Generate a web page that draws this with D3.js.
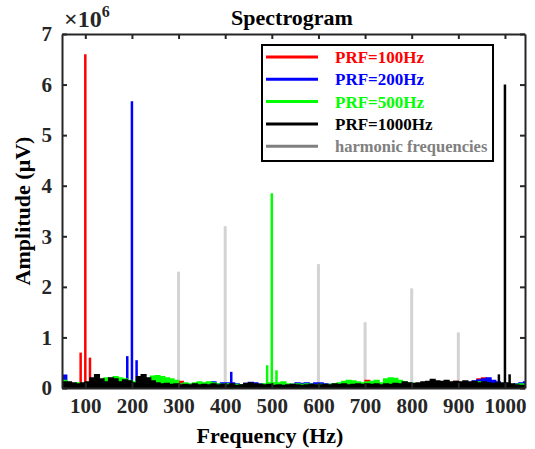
<!doctype html>
<html>
<head>
<meta charset="utf-8">
<style>
  body { margin: 0; background: #fff; }
  #chart text { font-family: "Liberation Serif", "Times New Roman", serif; font-weight: bold; }
  #chart .axis path { stroke: #262626; stroke-width: 2; }
  #chart .axis line { stroke: #262626; stroke-width: 2; }
</style>
</head>
<body>
<svg id="chart"></svg>
<script src="https://cdn.jsdelivr.net/npm/d3@7/dist/d3.min.js"></script>
<script>
// noise floor sampled every 10 Hz from 50 Hz, amplitudes in units of 1e6 uV
var noiseStart = 50, noiseStep = 10;
var redNoise = [0.08,0.06,0.05,0.06,0.07,0.06,0.07,0.06,0.05,0.06,0.05,0.06,0.05,0.06,0.05,0.06,0.05,0.06,0.05,0.06,0.05,0.06,0.05,0.06,0.05,0.13,0.06,0.05,0.06,0.05,0.06,0.05,0.06,0.05,0.06,0.05,0.06,0.05,0.06,0.05,0.06,0.05,0.06,0.05,0.06,0.05,0.06,0.05,0.06,0.05,0.06,0.05,0.06,0.05,0.06,0.05,0.06,0.05,0.06,0.05,0.06,0.05,0.06,0.05,0.06,0.15,0.06,0.05,0.06,0.05,0.06,0.05,0.06,0.05,0.06,0.05,0.06,0.05,0.06,0.05,0.06,0.05,0.06,0.05,0.13,0.06,0.07,0.08,0.1,0.18,0.2,0.15,0.1,0.08,0.07,0.06,0.05,0.06,0.05,0.06,0.05];
var blueNoise = [0.25,0.1,0.08,0.07,0.08,0.07,0.06,0.07,0.08,0.07,0.06,0.07,0.06,0.07,0.06,0.07,0.06,0.07,0.06,0.07,0.06,0.07,0.06,0.07,0.06,0.07,0.06,0.07,0.06,0.07,0.06,0.08,0.12,0.08,0.1,0.1,0.1,0.08,0.06,0.09,0.11,0.1,0.08,0.07,0.06,0.07,0.06,0.07,0.06,0.07,0.1,0.09,0.1,0.08,0.1,0.1,0.08,0.07,0.06,0.07,0.06,0.07,0.06,0.07,0.06,0.07,0.06,0.07,0.06,0.07,0.06,0.07,0.06,0.07,0.06,0.07,0.06,0.07,0.06,0.07,0.06,0.07,0.06,0.07,0.06,0.07,0.08,0.1,0.14,0.16,0.18,0.2,0.15,0.12,0.08,0.07,0.06,0.08,0.1,0.12,0.06];
var greenNoise = [0.15,0.1,0.08,0.1,0.08,0.1,0.12,0.1,0.12,0.2,0.18,0.22,0.2,0.18,0.15,0.12,0.15,0.14,0.16,0.23,0.24,0.22,0.2,0.18,0.15,0.08,0.1,0.08,0.1,0.12,0.1,0.12,0.1,0.08,0.07,0.08,0.06,0.07,0.06,0.08,0.07,0.06,0.07,0.08,0.1,0.1,0.1,0.12,0.08,0.07,0.08,0.07,0.08,0.07,0.06,0.07,0.06,0.07,0.08,0.1,0.13,0.15,0.14,0.12,0.1,0.12,0.13,0.15,0.1,0.18,0.2,0.19,0.15,0.12,0.1,0.09,0.08,0.09,0.1,0.08,0.09,0.1,0.09,0.1,0.12,0.1,0.1,0.09,0.1,0.12,0.1,0.08,0.07,0.06,0.05,0.05,0.06,0.07,0.08,0.07,0.08];
var blackNoise = [0.12,0.12,0.1,0.08,0.1,0.12,0.2,0.26,0.18,0.12,0.2,0.18,0.12,0.16,0.14,0.1,0.22,0.26,0.2,0.14,0.1,0.08,0.09,0.07,0.08,0.06,0.07,0.06,0.08,0.06,0.07,0.06,0.08,0.06,0.07,0.06,0.08,0.05,0.06,0.09,0.1,0.08,0.07,0.06,0.07,0.05,0.06,0.05,0.06,0.07,0.06,0.05,0.06,0.07,0.06,0.06,0.07,0.06,0.08,0.07,0.08,0.06,0.07,0.08,0.07,0.08,0.07,0.08,0.06,0.08,0.07,0.09,0.08,0.12,0.1,0.09,0.1,0.12,0.13,0.17,0.14,0.13,0.15,0.12,0.13,0.12,0.14,0.12,0.13,0.1,0.12,0.1,0.09,0.1,0.1,0.1,0.08,0.06,0.05,0.05,0.05];

// spectral peaks (Hz, 1e6 uV)
var redPeakFreq = [90, 100, 110], redPeakAmp = [0.7, 6.6, 0.6];
var bluePeakFreq = [190, 200, 210, 413], bluePeakAmp = [0.63, 5.67, 0.55, 0.32];
var greenPeakFreq = [490, 500, 510], greenPeakAmp = [0.45, 3.85, 0.35];
var blackPeakFreq = [987, 1000, 1010], blackPeakAmp = [0.27, 6.0, 0.27];
var harmonicFreq = [300, 400, 600, 700, 800, 900], harmonicAmp = [2.3, 3.2, 2.45, 1.3, 1.97, 1.1];

var xTicks = [100, 200, 300, 400, 500, 600, 700, 800, 900, 1000];
var yTicks = [0, 1, 2, 3, 4, 5, 6, 7];
var legendLabels = ["PRF=100Hz", "PRF=200Hz", "PRF=500Hz", "PRF=1000Hz", "harmonic frequencies"];
var legendColors = ["#ff0000", "#0000ff", "#00ff00", "#000000", "#808080"];

var width = 535, height = 449;
var chart = d3.select("#chart").attr("width", width).attr("height", height);

var x = d3.scaleLinear().domain([50, 1043]).range([62, 525]);
var y = d3.scaleLinear().domain([0, 7]).range([388, 34]);

var plot = chart.append("g");
plot.append("clipPath").attr("id", "clip").append("rect")
  .attr("x", 62).attr("y", 34).attr("width", 463).attr("height", 354);
var inner = plot.append("g").attr("clip-path", "url(#clip)");

// harmonic markers go in first, behind everything
harmonicFreq.forEach(function(f, i) {
  inner.append("line")
    .attr("x1", x(f)).attr("x2", x(f))
    .attr("y1", y(0)).attr("y2", y(harmonicAmp[i]))
    .attr("stroke", "#d3d3d3").attr("stroke-width", 3);
});

var series = [
  {noise: redNoise, pf: redPeakFreq, pa: redPeakAmp, color: "#ff0000"},
  {noise: blueNoise, pf: bluePeakFreq, pa: bluePeakAmp, color: "#0000ff"},
  {noise: greenNoise, pf: greenPeakFreq, pa: greenPeakAmp, color: "#00ff00"},
  {noise: blackNoise, pf: blackPeakFreq, pa: blackPeakAmp, color: "#000000"}
];

var area = d3.area()
  .x(function(d, i) { return x(noiseStart + i * noiseStep); })
  .y0(y(0))
  .y1(function(d) { return y(d); })
  .curve(d3.curveStepAfter);

series.forEach(function(s) {
  inner.append("path")
    .datum(s.noise)
    .attr("d", area)
    .attr("fill", s.color)
    .attr("stroke", s.color)
    .attr("stroke-width", 1.5);
  s.pf.forEach(function(f, i) {
    inner.append("line")
      .attr("x1", x(f)).attr("x2", x(f))
      .attr("y1", y(0)).attr("y2", y(s.pa[i]))
      .attr("stroke", s.color).attr("stroke-width", 2.5);
  });
});

// axes box, ticks inward
function tickStyle(g) {
  g.selectAll("text")
    .style("font-size", "21px")
    .style("font-family", "'Liberation Serif', serif")
    .style("font-weight", "bold")
    .attr("fill", "#262626");
}
chart.append("g").attr("class", "axis")
  .attr("transform", "translate(0," + y(0) + ")")
  .call(d3.axisBottom(x).tickValues(xTicks).tickFormat(d3.format("d")).tickSizeInner(-5).tickSizeOuter(0).tickPadding(10))
  .call(tickStyle);
chart.append("g").attr("class", "axis")
  .attr("transform", "translate(0," + y(7) + ")")
  .call(d3.axisTop(x).tickValues(xTicks).tickSizeInner(-5).tickSizeOuter(0).tickFormat(""));
chart.append("g").attr("class", "axis")
  .attr("transform", "translate(" + x.range()[0] + ",0)")
  .call(d3.axisLeft(y).tickValues(yTicks).tickFormat(d3.format("d")).tickSizeInner(-5).tickSizeOuter(0).tickPadding(10))
  .call(tickStyle);
chart.append("g").attr("class", "axis")
  .attr("transform", "translate(" + x.range()[1] + ",0)")
  .call(d3.axisRight(y).tickValues(yTicks).tickSizeInner(-5).tickSizeOuter(0).tickFormat(""));

// titles
chart.append("text").attr("x", 292).attr("y", 25).attr("text-anchor", "middle")
  .style("font-size", "22px").attr("fill", "#000").text("Spectrogram");
var mult = chart.append("text").attr("x", 64).attr("y", 27).style("font-size", "24px").attr("fill", "#262626");
mult.append("tspan").text("\u00d710");
mult.append("tspan").attr("dy", -10).style("font-size", "16px").text("6");
chart.append("text").attr("x", 270).attr("y", 443).attr("text-anchor", "middle")
  .style("font-size", "22px").attr("fill", "#000").text("Frequency (Hz)");
chart.append("text").attr("transform", "translate(30," + ((y(0) + y(7)) / 2) + ") rotate(-90)")
  .attr("text-anchor", "middle").style("font-size", "22px").attr("fill", "#000").text("Amplitude (\u03bcV)");

// legend
var legend = chart.append("g");
legend.append("rect").attr("x", 262).attr("y", 45).attr("width", 231).attr("height", 116)
  .attr("fill", "#fff").attr("stroke", "#000").attr("stroke-width", 2);
legendLabels.forEach(function(lab, i) {
  var ly = 57 + i * 22.3;
  legend.append("line").attr("x1", 266).attr("x2", 318).attr("y1", ly).attr("y2", ly)
    .attr("stroke", legendColors[i]).attr("stroke-width", 3);
  legend.append("text").attr("x", 335).attr("y", ly + 6)
    .style("font-size", i === 4 ? "16.5px" : "17px").attr("fill", legendColors[i]).text(lab);
});
</script>
</body>
</html>
